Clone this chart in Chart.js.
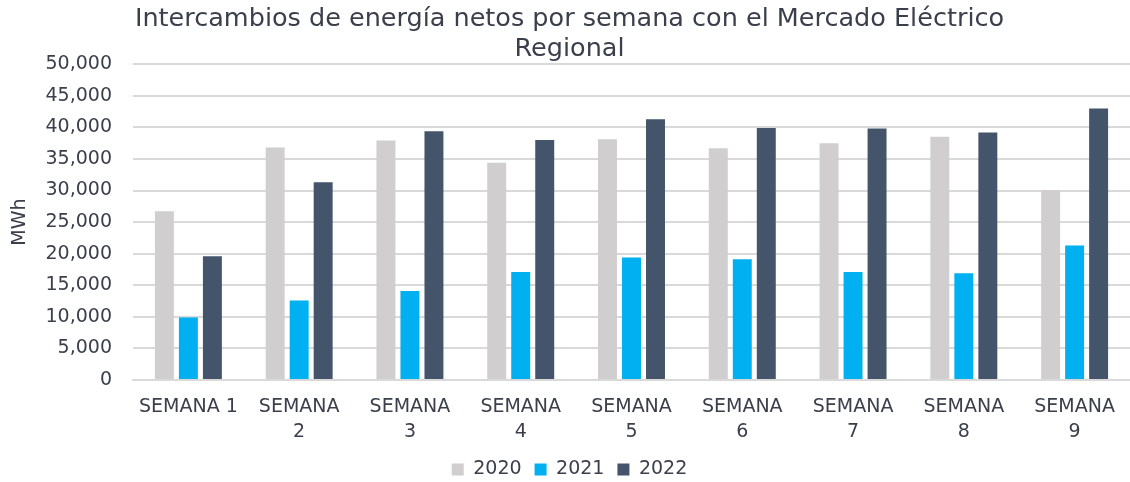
<!DOCTYPE html>
<html>
<head>
<meta charset="utf-8">
<script src="https://cdn.jsdelivr.net/npm/chart.js@4.4.0/dist/chart.umd.min.js"></script>
<style>
  html, body { margin: 0; padding: 0; background: #fff; }
  #wrap { width: 1130px; height: 482px; }
</style>
</head>
<body>
<div id="wrap"><canvas id="intercambiosChart"></canvas></div>
<script>
// Data (MWh)
const semanas = ['SEMANA 1', ['SEMANA', '2'], ['SEMANA', '3'], ['SEMANA', '4'], ['SEMANA', '5'],
                 ['SEMANA', '6'], ['SEMANA', '7'], ['SEMANA', '8'], ['SEMANA', '9']];
const valores2020 = [26700, 36800, 37900, 34400, 38100, 36700, 37500, 38500, 30100];
const valores2021 = [9900, 12600, 14100, 17100, 19400, 19100, 17100, 16900, 21300];
const valores2022 = [19600, 31300, 39400, 38000, 41300, 39900, 39800, 39200, 43000];

const fontFamily = "'DejaVu Sans', 'Noto Sans', sans-serif";
const textColor = '#3a3f4b';
Chart.defaults.font.family = fontFamily;
Chart.defaults.color = textColor;

// keep the legend strip short so the plot reaches down like the original
const legendHeight = {
    id: 'legendHeight',
    beforeInit(chart) {
        const fit = chart.legend.fit;
        chart.legend.fit = function () {
            fit.bind(chart.legend)();
            this.height = 35;
        };
    }
};

const ctx = document.getElementById('intercambiosChart').getContext('2d');
const chart = new Chart(ctx, {
    type: 'bar',
    data: {
        labels: semanas,
        datasets: [
            { label: '2020', data: valores2020, backgroundColor: '#d0cece' },
            { label: '2021', data: valores2021, backgroundColor: '#00b0f0' },
            { label: '2022', data: valores2022, backgroundColor: '#44546a' }
        ]
    },
    plugins: [legendHeight],
    options: {
        responsive: true,
        maintainAspectRatio: false,
        animation: false,
        layout: { padding: { left: 9, right: 0, top: 4, bottom: 0 } },
        datasets: {
            bar: { categoryPercentage: 0.65, barPercentage: 0.79 }
        },
        plugins: {
            title: {
                display: true,
                text: ['Intercambios de energía netos por semana con el Mercado Eléctrico', 'Regional'],
                font: { size: 25.5, weight: 'normal', lineHeight: 1.18 },
                color: textColor,
                padding: { top: 0, bottom: 0 }
            },
            legend: {
                position: 'bottom',
                labels: {
                    boxWidth: 12,
                    boxHeight: 12,
                    padding: 13,
                    font: { size: 19 },
                    color: textColor
                }
            },
            tooltip: { enabled: false }
        },
        scales: {
            x: {
                afterFit: scale => { scale.height = 67; },
                grid: { display: false, drawTicks: false },
                border: { color: '#d9d9d9', width: 2 },
                ticks: {
                    font: { size: 19, lineHeight: 1.3 },
                    color: textColor,
                    maxRotation: 0,
                    autoSkip: false,
                    padding: 15
                }
            },
            y: {
                min: 0,
                max: 50000,
                afterFit: scale => { scale.width = 124; },
                ticks: {
                    stepSize: 5000,
                    font: { size: 19 },
                    color: textColor,
                    padding: 21,
                    callback: v => v.toLocaleString('en-US')
                },
                grid: { color: '#d9d9d9', lineWidth: 2, drawTicks: false },
                border: { display: false },
                title: {
                    display: true,
                    text: 'MWh',
                    font: { size: 19 },
                    color: textColor,
                    padding: { top: 0, bottom: 0 }
                }
            }
        }
    }
});
</script>
</body>
</html>
